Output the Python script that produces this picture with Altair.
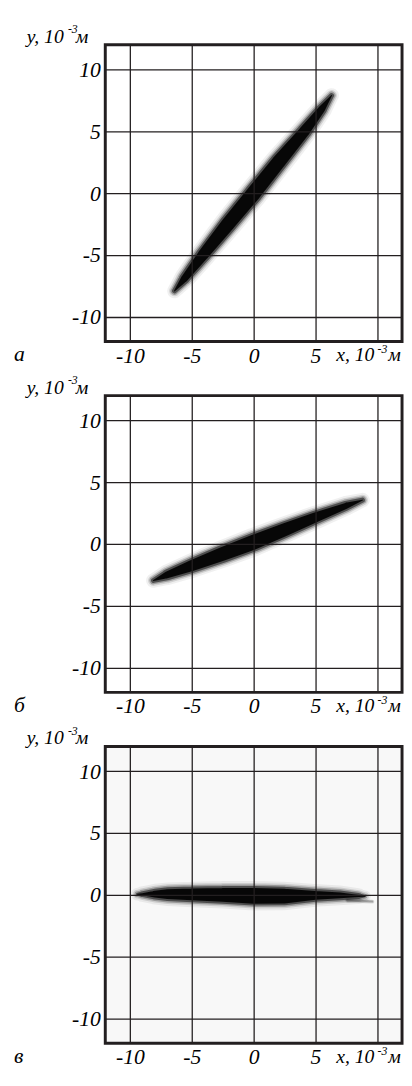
import altair as alt
import pandas as pd

# ---- data (units: 10^-3 m) ----
# panel а : centre line of the spot and its core thickness (px)
a_x = [-6.4, -5.6, -4.1, -2.0, 0.0, 2.0, 4.1, 5.5, 6.3]
a_y = [-7.9, -6.9, -5.0, -2.4, 0.0, 2.5, 5.0, 6.8, 7.9]
a_w = [5, 11, 15, 18, 19, 18, 15, 11, 5]

# panel б
b_x = [-8.1, -7.0, -5.0, -2.5, 0.0, 2.5, 5.0, 7.5, 8.8]
b_y = [-2.95, -2.5, -1.75, -0.8, 0.15, 1.15, 2.15, 3.1, 3.55]
b_w = [5, 11, 15, 18, 19, 17, 14, 10, 5]

# panel в
c_x = [-9.4, -9.0, -8.0, -7.0, -5.0, -2.5, 0.0, 2.5, 5.0, 7.0, 8.5, 9.0]
c_y = [0.05, 0.05, 0.05, 0.05, 0.03, 0.0, -0.08, -0.1, -0.05, -0.05, -0.1, -0.12]
c_w = [3, 6, 11, 14, 16, 18, 20, 19, 13, 10, 6, 2]
tail_x = [7.6, 9.6]
tail_y = [-0.45, -0.55]
tail_w = [3, 2]

ticks = [-10, -5, 0, 5, 10]
panel_letters = ["а", "б", "в"]
y_title = ["y, 10", "-3", "м"]
x_title = ["x, 10", "-3", "м"]

FONT = "Liberation Serif"
INK = "#231f20"
W = 302
H = 302
DOM = [-12, 12]

common = dict(values=ticks, grid=True, ticks=False, domain=False,
              labelFont=FONT, labelFontStyle="italic", labelFontSize=22,
              labelColor="black", labelFlush=False,
              labelOverlap=False, title=None, zindex=1,
              gridColor=INK, gridWidth=1.3, gridOpacity=1)
x_axis = alt.Axis(labelExpr="datum.value == 10 ? '' : toString(datum.value)",
                  labelPadding=4, **common)
y_axis = alt.Axis(labelExpr="toString(datum.value)", labelPadding=5, **common)

X = alt.X("x:Q", scale=alt.Scale(domain=DOM, nice=False, zero=False), axis=x_axis)
Y = alt.Y("y:Q", scale=alt.Scale(domain=DOM, nice=False, zero=False), axis=y_axis)

HALO = [(10, 0.06), (6, 0.12), (3, 0.25), (0, 0.5), (-4, 0.9)]


def spot(xs, ys, ws, halo=HALO):
    df = pd.DataFrame({"x": xs, "y": ys, "w": ws, "i": list(range(len(xs)))})
    layers = []
    for k, op in halo:
        layers.append(
            alt.Chart(df)
            .transform_calculate(s=f"max(1, datum.w + ({k}))")
            .mark_trail(color="black", opacity=op)
            .encode(x=X, y=Y, order=alt.Order("i:Q"),
                    size=alt.Size("s:Q", scale=None, legend=None))
        )
    return layers


def txt(t, x, y, size):
    return (alt.Chart(pd.DataFrame({"t": [t]}))
            .mark_text(font=FONT, fontStyle="italic", fontSize=size, color="black",
                       align="left", baseline="alphabetic")
            .encode(x=alt.value(x), y=alt.value(y), text="t:N"))


def labels(letter):
    return [
        txt(y_title[0], -80, -2, 20),
        txt(y_title[1], -38, -12, 12),
        txt(y_title[2], -30, -2, 20),
        txt(x_title[0], 235, 322, 20),
        txt(x_title[1], 277, 314, 12),
        txt(x_title[2], 288, 322, 20),
        txt(letter, -93, 322, 22),
    ]


def anchor():
    return (alt.Chart(pd.DataFrame({"a": [0]}))
            .mark_rule(opacity=0)
            .encode(x=alt.value(-97), y=alt.value(-26), y2=alt.value(0)))


def panel(layers, letter, fill):
    return alt.layer(anchor(), *layers, *labels(letter)).properties(
        width=W, height=H,
        view=alt.ViewBackground(fill=fill, stroke=INK, strokeWidth=3))


p1 = panel(spot(a_x, a_y, a_w), panel_letters[0], "white")
p2 = panel(spot(b_x, b_y, b_w), panel_letters[1], "white")
p3 = panel(spot(c_x, c_y, c_w) + spot(tail_x, tail_y, tail_w, [(2, 0.12), (0, 0.25)]),
           panel_letters[2], "#f8f8f8")

chart = alt.vconcat(p1, p2, p3, spacing=55, bounds="flush").properties(
    padding=0, background="white")

chart.save("out.html", embed_options={"renderer": "svg", "actions": False})
